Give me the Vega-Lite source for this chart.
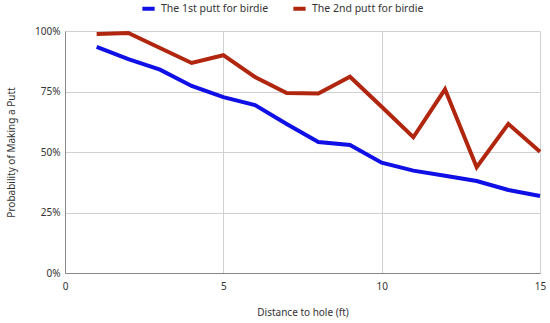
{
  "$schema": "https://vega.github.io/schema/vega-lite/v6.json",
  "width": 475,
  "height": 242,
  "autosize": {"type": "none"},
  "padding": {"left": 65, "top": 31, "right": 10, "bottom": 50},
  "background": "white",
  "config": {
    "font": "Noto Sans",
    "view": {"stroke": null},
    "axis": {"labelFont": "Noto Sans", "titleFont": "Noto Sans", "labelFontSize": 10, "titleFontSize": 10, "labelColor": "#333", "titleColor": "#333", "titleFontWeight": "normal", "gridColor": "#d0d0d0", "domainColor": "#888", "ticks": false}
  },
  "data": {
    "values": [
      {"d": 1, "p": 0.934, "s": "The 1st putt for birdie"},
      {"d": 2, "p": 0.884, "s": "The 1st putt for birdie"},
      {"d": 3, "p": 0.84, "s": "The 1st putt for birdie"},
      {"d": 4, "p": 0.773, "s": "The 1st putt for birdie"},
      {"d": 5, "p": 0.727, "s": "The 1st putt for birdie"},
      {"d": 6, "p": 0.694, "s": "The 1st putt for birdie"},
      {"d": 7, "p": 0.616, "s": "The 1st putt for birdie"},
      {"d": 8, "p": 0.541, "s": "The 1st putt for birdie"},
      {"d": 9, "p": 0.529, "s": "The 1st putt for birdie"},
      {"d": 10, "p": 0.456, "s": "The 1st putt for birdie"},
      {"d": 11, "p": 0.423, "s": "The 1st putt for birdie"},
      {"d": 12, "p": 0.402, "s": "The 1st putt for birdie"},
      {"d": 13, "p": 0.38, "s": "The 1st putt for birdie"},
      {"d": 14, "p": 0.343, "s": "The 1st putt for birdie"},
      {"d": 15, "p": 0.318, "s": "The 1st putt for birdie"},
      {"d": 1, "p": 0.988, "s": "The 2nd putt for birdie"},
      {"d": 2, "p": 0.992, "s": "The 2nd putt for birdie"},
      {"d": 3, "p": 0.93, "s": "The 2nd putt for birdie"},
      {"d": 4, "p": 0.868, "s": "The 2nd putt for birdie"},
      {"d": 5, "p": 0.9, "s": "The 2nd putt for birdie"},
      {"d": 6, "p": 0.81, "s": "The 2nd putt for birdie"},
      {"d": 7, "p": 0.744, "s": "The 2nd putt for birdie"},
      {"d": 8, "p": 0.742, "s": "The 2nd putt for birdie"},
      {"d": 9, "p": 0.811, "s": "The 2nd putt for birdie"},
      {"d": 10, "p": 0.687, "s": "The 2nd putt for birdie"},
      {"d": 11, "p": 0.561, "s": "The 2nd putt for birdie"},
      {"d": 12, "p": 0.759, "s": "The 2nd putt for birdie"},
      {"d": 13, "p": 0.437, "s": "The 2nd putt for birdie"},
      {"d": 14, "p": 0.616, "s": "The 2nd putt for birdie"},
      {"d": 15, "p": 0.501, "s": "The 2nd putt for birdie"}
    ]
  },
  "mark": {"type": "line", "strokeWidth": 4, "strokeJoin": "miter"},
  "encoding": {
    "x": {"field": "d", "type": "quantitative", "scale": {"domain": [0, 15], "nice": false}, "axis": {"values": [0, 5, 10, 15], "title": "Distance to hole (ft)", "labelPadding": 8, "titlePadding": 16, "labelFlush": false}},
    "y": {"field": "p", "type": "quantitative", "scale": {"domain": [0, 1], "nice": false}, "axis": {"values": [0, 0.25, 0.5, 0.75, 1], "format": ".0%", "title": "Probability of Making a Putt", "labelPadding": 5, "titlePadding": 18, "labelFlush": false}},
    "color": {"field": "s", "type": "nominal", "scale": {"domain": ["The 1st putt for birdie", "The 2nd putt for birdie"], "range": ["#1010e6", "#b0260f"]},
      "legend": {"title": null, "orient": "none", "direction": "horizontal", "legendX": 75, "legendY": -31, "symbolType": "stroke", "symbolStrokeWidth": 4, "symbolSize": 150, "labelFontSize": 10.5, "labelColor": "#333", "columnPadding": 16}}
  }
}
